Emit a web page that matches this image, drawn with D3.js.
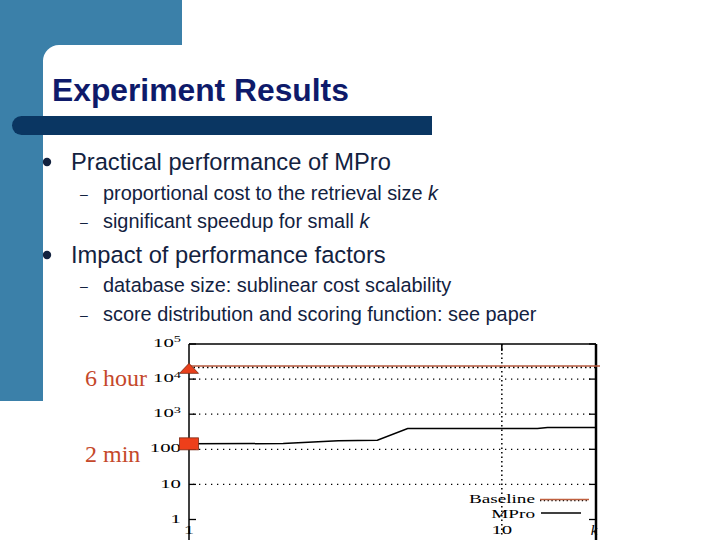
<!DOCTYPE html>
<html><head><meta charset="utf-8">
<script src="https://cdn.jsdelivr.net/npm/d3@7"></script>
<style>html,body{margin:0;padding:0;background:#fff;}svg{display:block;}</style>
</head><body>
<script>
// ---- data ----
const title = "Experiment Results";
const bullets = [
  {level:1, text:"Practical performance of MPro"},
  {level:2, text:"proportional cost to the retrieval size ", ital:"k"},
  {level:2, text:"significant speedup for small ", ital:"k"},
  {level:1, text:"Impact of performance factors"},
  {level:2, text:"database size: sublinear cost scalability"},
  {level:2, text:"score distribution and scoring function: see paper"}
];
const yTicks = [1, 10, 100, 1000, 10000, 100000];
const yTickLabels = [["1",""],["10",""],["100",""],["10","3"],["10","4"],["10","5"]];
const xTicks = [1, 10];
const xTickLabels = ["1", "10"];
const mproK    = [1, 2, 3, 4, 5, 6, 7, 8, 9, 10, 11, 12, 13, 14, 15, 16, 17, 18, 19, 20];
const mproCost = [143, 146, 175, 182, 390, 390, 390, 390, 390, 390, 390, 390, 390, 415, 415, 415, 415, 415, 415, 415];
const baselineK = [1, 20];
const baselineCost = [21600, 21600];
const annotations = [{label:"6 hour", value:21600, shape:"triangle"}, {label:"2 min", value:143, shape:"square"}];
const legendItems = ["Baseline", "MPro"];

const W = 720, H = 540;
const svg = d3.select("body").append("svg").attr("width", W).attr("height", H);

// ---- slide background ----
const blue = "#3b80a9";
svg.append("rect").attr("x",0).attr("y",0).attr("width",182).attr("height",60).attr("fill",blue);
svg.append("rect").attr("x",0).attr("y",0).attr("width",43).attr("height",401).attr("fill",blue);
svg.append("rect").attr("x",43).attr("y",45).attr("width",700).attr("height",600).attr("rx",16).attr("fill","#fff");
svg.append("rect").attr("x",43).attr("y",401).attr("width",40).attr("height",200).attr("fill","#fff");
svg.append("rect").attr("x",12).attr("y",116).attr("width",420).attr("height",19).attr("rx",9.5).attr("fill","#0a3662");
svg.append("rect").attr("x",30).attr("y",116).attr("width",402).attr("height",19).attr("fill","#0a3662");

svg.append("text").attr("x",52).attr("y",101).text(title)
  .attr("font-family","Liberation Sans, Arial, sans-serif").attr("font-weight","bold")
  .attr("font-size",31.8).attr("fill","#0e1a6a");

const bulletY = [170, 200, 228, 263, 292, 321];
const txtColor = "#13223f";
bullets.forEach((b,i)=>{
  const y = bulletY[i];
  if (b.level===1){
    svg.append("circle").attr("cx",47).attr("cy",y-8).attr("r",4.2).attr("fill",txtColor);
    svg.append("text").attr("x",71).attr("y",y).text(b.text)
      .attr("font-family","Liberation Sans, Arial, sans-serif").attr("font-size",23.7).attr("fill",txtColor);
  } else {
    svg.append("text").attr("x",80).attr("y",y-1).text("–")
      .attr("font-family","Liberation Sans, Arial, sans-serif").attr("font-size",14).attr("fill",txtColor);
    const t = svg.append("text").attr("x",103).attr("y",y)
      .attr("font-family","Liberation Sans, Arial, sans-serif").attr("font-size",19.9).attr("fill",txtColor);
    t.append("tspan").text(b.text);
    if (b.ital) t.append("tspan").attr("font-style","italic").text(b.ital);
  }
});

// ---- chart ----
const x = d3.scaleLog().domain([1, 20]).range([189, 596]);
const y = d3.scaleLog().domain([1, 1e5]).range([519.5, 344]);
const serif = "Liberation Serif, Times New Roman, serif";
const g = svg.append("g");

// grid
g.selectAll(".hg").data(yTicks.filter(v=>v>1 && v<1e5)).join("line")
  .attr("x1",x(1)+4).attr("x2",x(20)-3).attr("y1",d=>y(d)).attr("y2",d=>y(d))
  .attr("stroke","#000").attr("stroke-width",1.3).attr("stroke-dasharray","1.3,4.7");
g.append("line").attr("x1",x(10)).attr("x2",x(10)).attr("y1",y(1e5)).attr("y2",536)
  .attr("stroke","#000").attr("stroke-width",1.5).attr("stroke-dasharray","1.5,3");

// borders
g.append("line").attr("x1",x(1)).attr("x2",x(1)).attr("y1",y(1e5)).attr("y2",540).attr("stroke","#000").attr("stroke-width",1.5);
g.append("line").attr("x1",x(1)).attr("x2",x(20)).attr("y1",y(1e5)).attr("y2",y(1e5)).attr("stroke","#000").attr("stroke-width",1.5);
g.append("line").attr("x1",x(20)).attr("x2",x(20)).attr("y1",y(1e5)).attr("y2",540).attr("stroke","#000").attr("stroke-width",2.5);

// ticks
g.selectAll(".lt").data(yTicks).join("line")
  .attr("x1",x(1)).attr("x2",x(1)+7).attr("y1",d=>y(d)).attr("y2",d=>y(d)).attr("stroke","#000").attr("stroke-width",1.3);
g.selectAll(".rt").data(yTicks).join("line")
  .attr("x1",x(20)-7).attr("x2",x(20)).attr("y1",d=>y(d)).attr("y2",d=>y(d)).attr("stroke","#000").attr("stroke-width",1.3);
g.append("line").attr("x1",x(10)).attr("x2",x(10)).attr("y1",y(1e5)).attr("y2",y(1e5)+7).attr("stroke","#000").attr("stroke-width",1.5);

// y tick labels
yTicks.forEach((v,i)=>{
  const t = g.append("text").attr("x",181).attr("y",y(v)+4).attr("text-anchor","end")
    .attr("font-family",serif).attr("font-size",16).attr("fill","#000")
    .attr("transform",`translate(181,${y(v)}) scale(1.3,0.78) translate(-181,${-y(v)})`);
  t.append("tspan").text(yTickLabels[i][0]);
  if (yTickLabels[i][1]) t.append("tspan").attr("dy",-6).attr("font-size",11).text(yTickLabels[i][1]);
});
// x tick labels
xTicks.forEach((v,i)=>{
  g.append("text").attr("x",x(v)).attr("y",534).attr("text-anchor","middle")
    .attr("font-family",serif).attr("font-size",16).attr("fill","#000")
    .attr("transform",`translate(${x(v)},534) scale(1.3,0.78) translate(${-x(v)},-534)`)
    .text(xTickLabels[i]);
});
g.append("text").attr("x",x(20)-2).attr("y",535).attr("text-anchor","middle")
  .attr("font-family",serif).attr("font-style","italic").attr("font-size",15).text("k");

// series
const line = d3.line().x(d=>x(d[0])).y(d=>y(d[1]));
const baseData = baselineK.map((k,i)=>[k, baselineCost[i]]);
g.append("path").attr("d", line(baseData)).attr("fill","none")
  .attr("stroke","#000").attr("stroke-width",1.6).attr("stroke-dasharray","1.5,3");
g.append("line").attr("x1",x(1)).attr("x2",x(20)+4).attr("y1",y(baselineCost[0])-1.3).attr("y2",y(baselineCost[0])-1.3)
  .attr("stroke","#b4583e").attr("stroke-width",1.4);
const mproData = mproK.map((k,i)=>[k, mproCost[i]]);
g.append("path").attr("d", line(mproData)).attr("fill","none").attr("stroke","#000").attr("stroke-width",1.5);

// legend
const legText = (s, yy) => g.append("text").attr("x",535).attr("y",yy).attr("text-anchor","end")
  .attr("font-family",serif).attr("font-size",12).attr("fill","#000")
  .attr("transform",`translate(535,${yy}) scale(1.6,1) translate(-535,${-yy})`).text(s);
legText(legendItems[0], 503);
legText(legendItems[1], 518);
g.append("line").attr("x1",540).attr("x2",589).attr("y1",500.5).attr("y2",500.5).attr("stroke","#000").attr("stroke-width",1.3).attr("stroke-dasharray","1.3,2.5");
g.append("line").attr("x1",540).attr("x2",589).attr("y1",499.5).attr("y2",499.5).attr("stroke","#c0603f").attr("stroke-width",1.3);
g.append("line").attr("x1",541).attr("x2",581).attr("y1",513).attr("y2",513).attr("stroke","#000").attr("stroke-width",1.5);

// annotations
const annColor = "#c5482a";
annotations.forEach(a=>{
  const cy = y(a.value);
  if (a.shape==="triangle"){
    g.append("path").attr("d",`M${x(1)},${cy-4} L${x(1)+9.5},${cy+6} L${x(1)-9.5},${cy+6} Z`)
      .attr("fill","#e8401c").attr("stroke","#7a2a14").attr("stroke-width",0.8);
  } else {
    g.append("rect").attr("x",x(1)-9.5).attr("y",cy-6).attr("width",19).attr("height",12)
      .attr("fill","#ee3f1a").attr("stroke","#7a2a14").attr("stroke-width",0.8);
  }
  g.append("text").attr("x",85).attr("y",cy+(a.shape==="triangle"?19:18)).attr("font-family",serif)
    .attr("font-size",24).attr("fill",annColor).text(a.label);
});
</script>
</body></html>
